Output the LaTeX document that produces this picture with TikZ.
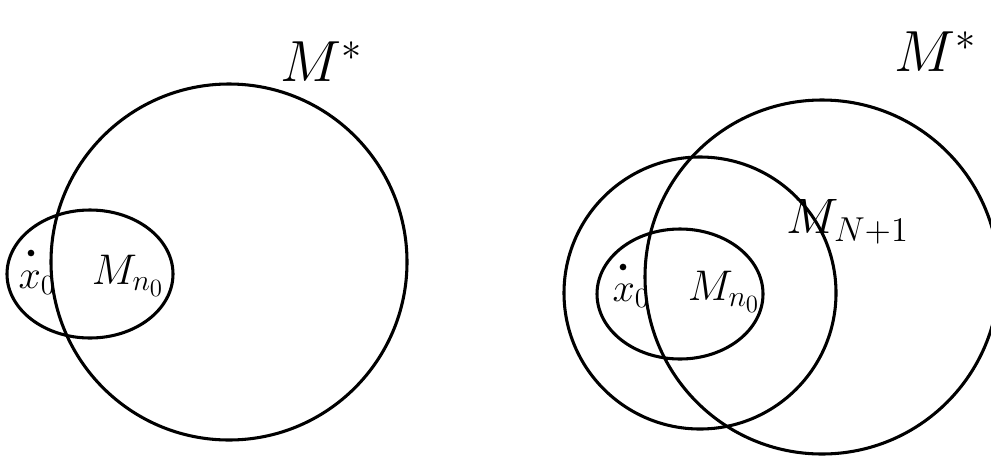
\documentclass[tikz,border=0pt]{standalone}
\usepackage{graphicx}
\usepackage{amsmath}
\usetikzlibrary{positioning}

\begin{document}
\begin{tikzpicture}[
    x=0.75pt, y=-0.75pt,
    set/.style={line width=2.3pt, black},
    pt/.style={circle, fill=black, minimum size=5pt},
    every node/.style={font=\huge, inner sep=0pt}
]
\useasboundingbox (0, 0) rectangle (991, 457);

% ============ LEFT: M* AND M_{n_0} ============
\draw[set] (229, 262) circle [radius=178];
\draw[set] (90, 274) ellipse [x radius=83, y radius=64];

\node (mstarL) at (322, 62) {\scalebox{2.1}{$M^{*}$}};
\node (mnL) at (128, 276) {\scalebox{1.55}{$M_{n_0}$}};
\node[pt] (pL) at (31, 253) {};
\node (xL) at (37, 283) {\scalebox{1.45}{$x_0$}};

% ============ RIGHT: M*, M_{N+1} AND M_{n_0} ============
\draw[set] (822, 277) circle [radius=177];
\draw[set] (700, 293) circle [radius=136];
\draw[set] (680, 294) ellipse [x radius=83, y radius=65];

\node (mstarR) at (936, 52) {\scalebox{2.1}{$M^{*}$}};
\node (mnR) at (848, 222) {\scalebox{1.8}{$M_{N+1}$}};
\node (mnoR) at (724, 292) {\scalebox{1.55}{$M_{n_0}$}};
\node[pt] (pR) at (623, 267) {};
\node (xR) at (631, 296) {\scalebox{1.45}{$x_0$}};

\end{tikzpicture}
\end{document}
